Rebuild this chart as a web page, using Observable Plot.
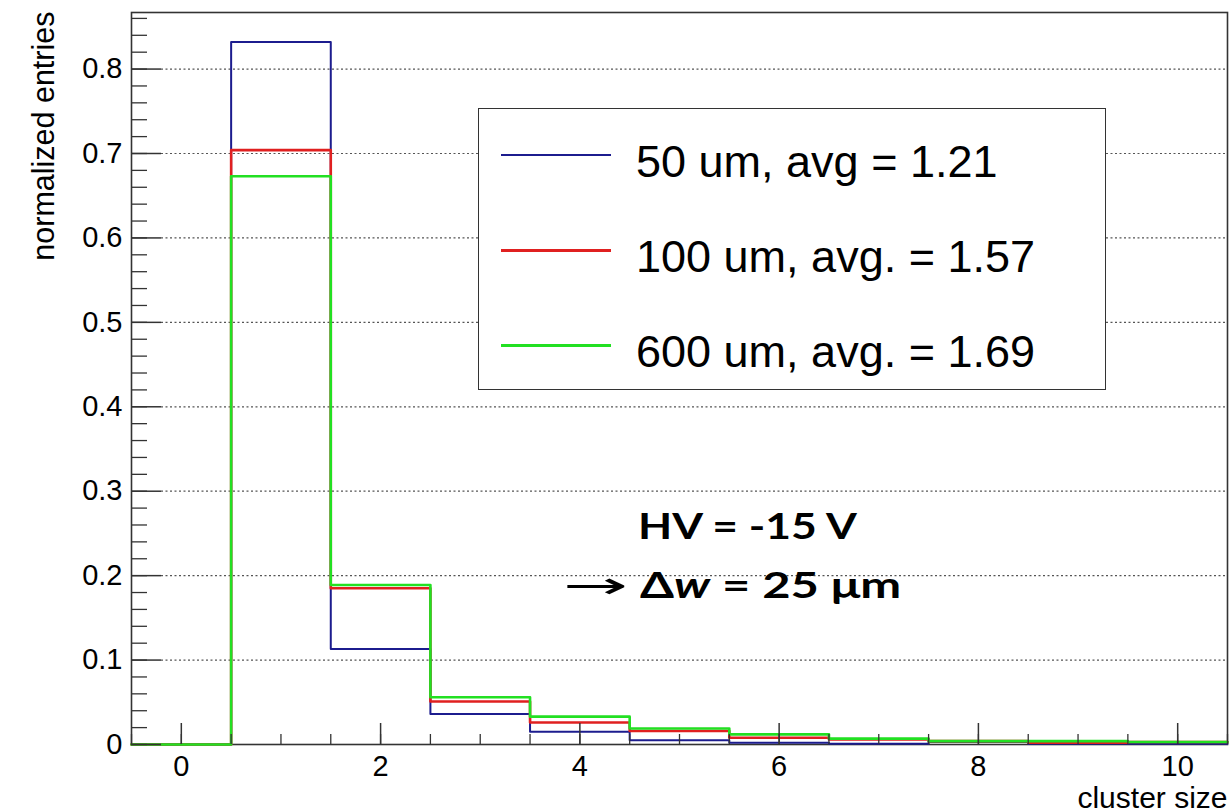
<!DOCTYPE html>
<html><head><meta charset="utf-8">
<script src="https://cdn.jsdelivr.net/npm/d3@7"></script>
<script src="https://cdn.jsdelivr.net/npm/@observablehq/plot@0.6"></script>
<style>
body{margin:0;background:#fff;}
#wrap{position:relative;width:1229px;height:812px;font-family:"Liberation Sans",Arial,sans-serif;}
#legend{position:absolute;left:478px;top:108px;width:628px;height:282px;border:1.5px solid #333;background:#fff;box-sizing:border-box;}
.lline{position:absolute;left:22px;width:110px;height:0;}
.ltext{position:absolute;left:157px;font-size:45px;line-height:1;white-space:nowrap;color:#000;transform:translateY(-50%);}
.anno{position:absolute;font-family:Lato,"Open Sans",sans-serif;font-weight:bold;color:#000;white-space:nowrap;line-height:1;transform-origin:0 0;}
</style>
</head><body>
<div id="wrap"></div>
<script>
// ---- data ----
const clusterSize = [0, 1, 2, 3, 4, 5, 6, 7, 8, 9, 10];
const entries50um  = [0, 0.832, 0.113, 0.036, 0.015, 0.005, 0.002, 0.001, 0.003, 0.001, 0.001];
const entries100um = [0, 0.704, 0.185, 0.051, 0.026, 0.016, 0.008, 0.006, 0.004, 0.002, 0.003];
const entries600um = [0, 0.673, 0.189, 0.056, 0.033, 0.019, 0.012, 0.007, 0.004, 0.004, 0.003];
const seriesNames  = ["50 um, avg = 1.21", "100 um, avg. = 1.57", "600 um, avg. = 1.69"];
const seriesColors = ["#1c1c8e", "#e02020", "#22e022"];
const xMajorTicks = [0, 2, 4, 6, 8, 10];
const xMinorTicks = d3.range(-0.5, 10.51, 0.5);
const yMajorTicks = [0, 0.1, 0.2, 0.3, 0.4, 0.5, 0.6, 0.7, 0.8];
const yMinorTicks = d3.range(0, 0.861, 0.02);
const xLabel = "cluster size";
const yLabel = "normalized entries";

// step outline built from bin edges
function steps(vals, name) {
  const pts = clusterSize.map((c, i) => ({x: c - 0.5, y: vals[i], s: name}));
  pts.push({x: clusterSize[clusterSize.length - 1] + 0.5, y: vals[vals.length - 1], s: name});
  return pts;
}
const allSeries = [entries50um, entries100um, entries600um];
const lineData = allSeries.map((v, i) => steps(v, seriesNames[i]));

const W = 1229, H = 812, mL = 131, mR = 2, mT = 12, mB = 68;
const plotW = W - mL - mR, plotH = H - mT - mB;

const chart = Plot.plot({
  width: W, height: H,
  marginLeft: mL, marginRight: mR, marginTop: mT, marginBottom: mB,
  style: {fontFamily: '"Liberation Sans", Arial, sans-serif', background: "#fff"},
  x: {domain: [-0.5, 10.5], axis: null},
  y: {domain: [0, 0.867], axis: null},
  marks: [
    Plot.ruleY(yMajorTicks.filter(d => d > 0), {stroke: "#555", strokeWidth: 1.2, strokeDasharray: "2,2.5", insetLeft: 30}),
    Plot.frame({stroke: "#333", strokeWidth: 1.6}),
    ...lineData.map((d, i) => Plot.line(d, {x: "x", y: "y", curve: "step-after", stroke: seriesColors[i], strokeWidth: i === 0 ? 2 : 2.6})),
    // y ticks (inside)
    Plot.ruleY(yMajorTicks, {stroke: "#333", strokeWidth: 1.5, insetRight: plotW - 30}),
    Plot.ruleY(yMinorTicks, {stroke: "#333", strokeWidth: 1.3, insetRight: plotW - 16}),
    // x ticks (inside, from bottom)
    Plot.ruleX(xMinorTicks, {stroke: "#333", strokeWidth: 1.3, insetTop: plotH - 10}),
    Plot.ruleX(xMajorTicks, {stroke: "#333", strokeWidth: 1.5, insetTop: plotH - 21}),
    Plot.axisY(yMajorTicks, {tickSize: 0, tickPadding: 9, fontSize: 29, label: null, tickFormat: d => d === 0 ? "0" : d3.format(".1f")(d), fill: "#000"}),
    Plot.axisX(xMajorTicks, {tickSize: 0, tickPadding: 11, fontSize: 29, label: null, tickFormat: d => String(d), fill: "#000"}),
    Plot.text([xLabel], {frameAnchor: "bottom-right", dy: 63, textAnchor: "end", lineAnchor: "bottom", fontSize: 30, fill: "#000"}),
    Plot.text([yLabel], {frameAnchor: "top-left", rotate: -90, dx: -78, dy: -1, textAnchor: "end", lineAnchor: "bottom", fontSize: 30.5, fill: "#000"})
  ]
});
const wrap = document.getElementById("wrap");
wrap.appendChild(chart);

// legend (ROOT TLegend style)
const leg = document.createElement("div");
leg.id = "legend";
const rowTops = [45, 140, 235];
seriesNames.forEach((name, i) => {
  const ln = document.createElement("div");
  ln.className = "lline";
  ln.style.top = rowTops[i] + "px";
  ln.style.borderTop = (i === 0 ? 2 : 3) + "px solid " + seriesColors[i];
  leg.appendChild(ln);
  const tx = document.createElement("div");
  tx.className = "ltext";
  tx.style.top = (rowTops[i] + 7) + "px";
  tx.textContent = name;
  leg.appendChild(tx);
});
wrap.appendChild(leg);

// annotation
const a1 = document.createElement("div");
a1.className = "anno";
a1.style.left = "638px"; a1.style.top = "506px"; a1.style.fontSize = "37px";
a1.style.transform = "scaleX(1.2)";
a1.textContent = "HV = -15 V";
wrap.appendChild(a1);
const a2 = document.createElement("div");
a2.className = "anno";
a2.style.left = "563px"; a2.style.top = "565px"; a2.style.fontSize = "37px";
a2.innerHTML = '<span style="font-weight:normal;font-family:\'DejaVu Sans\';display:inline-block;transform:scaleX(2.1);transform-origin:0 50%;margin-right:46px">→</span><span style="display:inline-block;transform:scaleX(1.32);transform-origin:0 0">Δ<i>w</i> = 25 μm</span>';
wrap.appendChild(a2);
</script>
</body></html>
